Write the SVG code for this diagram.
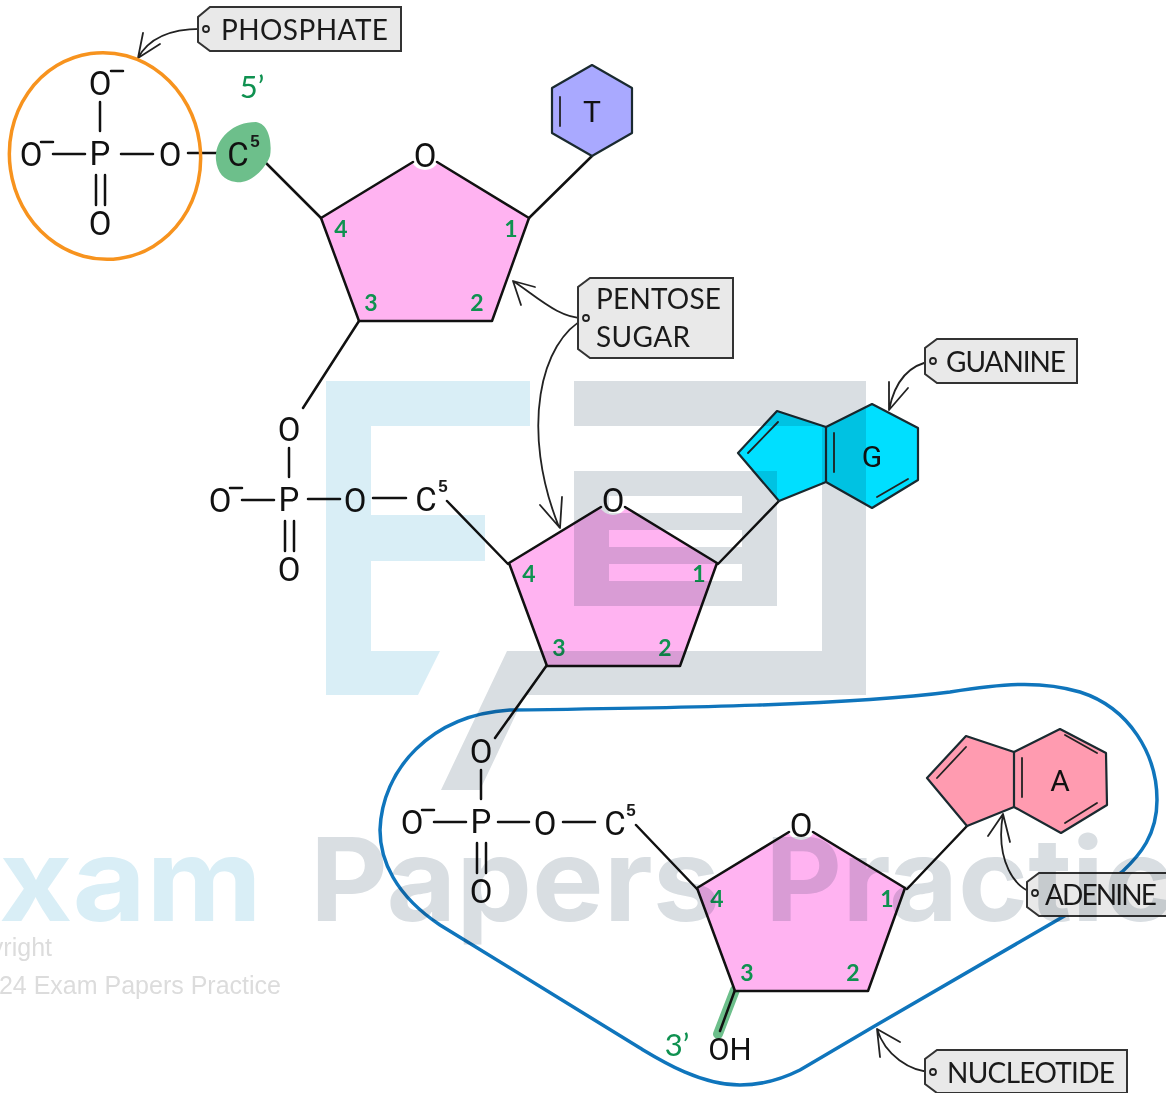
<svg xmlns="http://www.w3.org/2000/svg" width="1166" height="1093" viewBox="0 0 1166 1093">
<style>
.t{font-family:"Lato","Open Sans",sans-serif;fill:#1a1a1a}
.r{font-family:"Roboto",sans-serif;fill:#111;font-weight:400}
.a{font-size:33px;text-anchor:middle}
.s{font-family:"Liberation Sans",sans-serif;font-size:17px;font-weight:700;fill:#1a1a1a;text-anchor:middle}
.n{font-family:"Lato",sans-serif;font-size:23px;fill:#0f9150;text-anchor:middle;font-weight:700}
.l{font-size:28px}
.b{stroke:#111;stroke-width:2.500;fill:none;stroke-linecap:round;stroke-linejoin:round}
.c{stroke:#222;stroke-width:1.800;fill:none;stroke-linecap:round;stroke-linejoin:round}
.tag{fill:#e9e9e9;stroke:#333;stroke-width:2}
.hole{fill:none;stroke:#222;stroke-width:1.800}
.pent{fill:#ffb3f1;stroke:none}
.ring{stroke:#1a2a30;stroke-width:2.200;stroke-linejoin:round}
.wm{font-family:"Inter",sans-serif;font-weight:700;font-size:116px}
.cr{font-family:"Liberation Sans",sans-serif;font-size:25px;fill:#dcdcdc;text-anchor:end}
</style>
<defs>
<g id="pentagon">
<polygon class="pent" points="321,218 425,155 529,218 492,321 359,321"/>
<circle cx="425" cy="155" r="15" fill="#fff"/>
<path class="b" d="M413,162L321,218L359,321L492,321L529,218L437,162"/>
<text class="r a" x="425" y="167">O</text>
<text class="n" x="341" y="237">4</text><text class="n" x="511" y="237">1</text>
<text class="n" x="371" y="311">3</text><text class="n" x="477" y="311">2</text>
</g>
<g id="phos">
<text class="r a" x="0" y="12">P</text>
<text class="r a" x="0" y="-58">O</text>
<text class="r a" x="0" y="82">O</text>
<text class="r a" x="-69" y="13">O</text>
<path class="b" d="M-59,-11H-47M0,-51V-22M-47,1H-15M-4,22V52M5,22V52"/>
</g>
</defs>
<rect width="1166" height="1093" fill="#fff"/>
<g id="nucleotide-loop"><path d="M740,1085C700,1085 660,1060 640,1048L440,925C395,895 380,860 380,830C382,770 430,715 510,710C680,708 850,705 950,692C1000,684 1040,680 1080,692C1130,708 1157,755 1157,800C1157,835 1140,855 1122,872L1066,915L873,1027L800,1070C780,1080 760,1085 740,1085Z" fill="none" stroke="#0f75bc" stroke-width="3.500"/></g>
<g id="connectors">
<path class="b" d="M259,156L321,218M592,156L529,218M359,321L303,408M188,153H219"/>
<path class="b" d="M447,501L508,564M779,501L718,564M547,665L495,738M373,498H406"/>
<path class="b" d="M636,825L697,889M967,826L907,889M563,822H595"/>
<path d="M735,990L718,1034" stroke="#6dbf8b" stroke-width="10" stroke-linecap="round"/>
<path class="b" d="M735,990L720,1031"/>
<path class="c" d="M206,29C175,28 150,36 138,58M143,33L138,58L160,44"/>
<path class="c" d="M586,318C560,320 535,295 513,281M535,287L513,281L521,305"/>
<path class="c" d="M586,318C540,340 520,430 559,527M540,505L560,528L562,497"/>
<path class="c" d="M933,361C910,364 895,380 889,410M889,382L889,410L908,388"/>
<path class="c" d="M1035,893C1015,890 995,860 1003,814M988,836L1003,814L1010,842"/>
<path class="c" d="M933,1072C910,1072 885,1055 877,1029M900,1042L877,1029L880,1057"/>
</g>
<g id="phosphate-1">
<ellipse cx="105" cy="156" rx="95.500" ry="103.500" fill="none" stroke="#f7931e" stroke-width="3.500" transform="rotate(-8 105 156)"/>
<use href="#phos" x="100" y="153"/>
<path class="b" d="M111,71H123M121,154H153"/>
<text class="r a" x="170" y="166">O</text>
</g>
<g id="carbon-5-prime">
<path d="M216,160C214,140 232,122 256,122C270,124 272,145 270,156C264,172 248,184 236,182C224,181 217,172 216,160Z" fill="#6dbf8b"/>
<text class="r a" x="238" y="166">C</text><text class="s" x="255" y="147">5</text>
<text class="n" x="252" y="98" style="font-size:31px;font-weight:400">5’</text>
</g>
<g id="sugar-1"><use href="#pentagon"/></g>
<g id="thymine">
<polygon class="ring" fill="#a9a9ff" points="592,65 632,88 632,133 592,156 552,133 552,88"/>
<path class="c" d="M560,97V126"/>
<text class="r" x="592" y="122" style="font-size:30px;text-anchor:middle">T</text>
</g>
<g id="phosphate-2">
<use href="#phos" x="289" y="499"/>
<path class="b" d="M308,499H340"/>
<text class="r a" x="355" y="512">O</text>
<text class="r a" x="426" y="511">C</text><text class="s" x="443" y="492">5</text>
</g>
<g id="sugar-2"><use href="#pentagon" x="188" y="345"/></g>
<g id="guanine">
<polygon class="ring" fill="#00dfff" points="777,411 826,427 872,404 918,428 918,480 872,508 826,482 779,501 738,453"/>
<path class="ring" d="M826,427V482" fill="none"/>
<path class="c" d="M748,453L778,422M834,433V472M877,497L908,479"/>
<text class="r" x="872" y="467" style="font-size:30px;text-anchor:middle">G</text>
</g>
<g id="phosphate-3">
<use href="#phos" x="481" y="821"/>
<path class="b" d="M498,822H529"/>
<text class="r a" x="545" y="835">O</text>
<text class="r a" x="615" y="835">C</text><text class="s" x="631" y="816">5</text>
</g>
<g id="sugar-3"><use href="#pentagon" x="376" y="670"/></g>
<g id="adenine">
<polygon class="ring" fill="#ff9bb0" points="966,736 1014,752 1060,729 1106,753 1107,805 1061,833 1014,807 967,826 927,778"/>
<path class="ring" d="M1014,752V807" fill="none"/>
<path class="c" d="M937,778L966,747M1022,758V797M1065,735L1097,753M1065,823L1097,803"/>
<text class="r" x="1060" y="791" style="font-size:30px;text-anchor:middle">A</text>
</g>
<g id="hydroxyl">
<text class="n" x="677" y="1056" style="font-size:31px;font-weight:400">3’</text>
<text class="r" x="730" y="1060" style="font-size:31px;text-anchor:middle">OH</text>
</g>
<g id="label-phosphate">
<path class="tag" d="M210,7H401V51H210L198,42V17Z"/><circle class="hole" cx="206" cy="29" r="3"/>
<text class="t l" x="221" y="40" textLength="167">PHOSPHATE</text>
</g>
<g id="label-pentose">
<path class="tag" d="M590,278H733V358H590L578,349V287Z"/><circle class="hole" cx="586" cy="318" r="3"/>
<text class="t l" x="596" y="309" textLength="125">PENTOSE</text>
<text class="t l" x="596" y="347" textLength="94">SUGAR</text>
</g>
<g id="label-guanine">
<path class="tag" d="M937,339H1077V383H937L925,374V348Z"/><circle class="hole" cx="933" cy="361" r="3"/>
<text class="t l" x="946" y="372" textLength="120">GUANINE</text>
</g>
<g id="label-adenine">
<path class="tag" d="M1039,873H1170V916H1039L1027,907V882Z"/><circle class="hole" cx="1035" cy="893" r="3"/>
<text class="t l" x="1045" y="905" textLength="112">ADENINE</text>
</g>
<g id="label-nucleotide">
<path class="tag" d="M937,1050H1127V1093H937L925,1084V1059Z"/><circle class="hole" cx="933" cy="1072" r="3"/>
<text class="t l" x="947" y="1083" textLength="168">NUCLEOTIDE</text>
</g>
<g id="watermark" style="mix-blend-mode:multiply">
<path fill="#d9eef6" d="M326,381H530V426H371V515H485V561H371V651H440L418,695H326Z"/>
<path fill="#d9dee2" d="M574,381H866V695H525L480,790H441L507,651H822V426H574Z"/>
<path fill="#d9dee2" fill-rule="evenodd" d="M574,471H777V606H574ZM609,496V513H742V496ZM609,530V547H742V530ZM609,564V581H742V564Z"/>
<text class="wm" fill="#d9eef6" x="-78" y="921" textLength="340" lengthAdjust="spacingAndGlyphs">Exam</text>
<text class="wm" fill="#d9dee2" x="310" y="921" textLength="410" lengthAdjust="spacingAndGlyphs">Papers</text>
<text class="wm" fill="#d9dee2" x="765" y="921" textLength="480" lengthAdjust="spacingAndGlyphs">Practice</text>
</g>
<text class="cr" x="52" y="956">Copyright</text>
<text class="cr" x="281" y="994">© 2024 Exam Papers Practice</text>
</svg>
